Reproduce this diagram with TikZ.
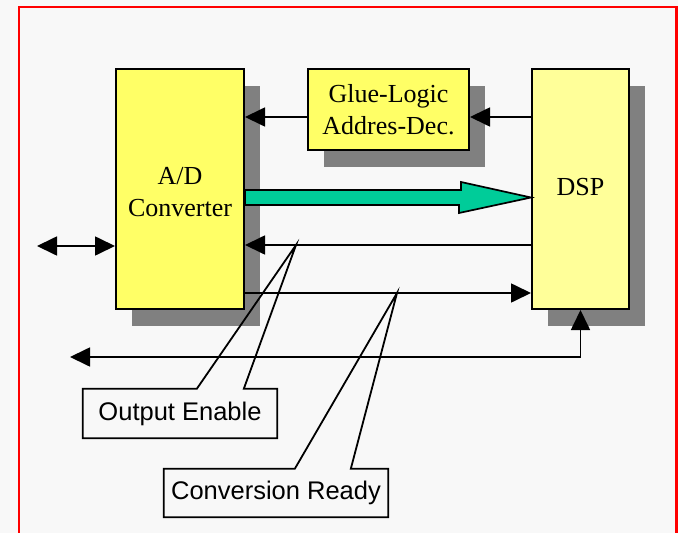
\documentclass[tikz,border=0pt]{standalone}
\usepackage{fontspec}
\setmainfont{Liberation Serif}
\newfontfamily\labelfont{Liberation Sans}
\usetikzlibrary{arrows.meta, positioning, calc, shadows}

\definecolor{bgcol}{HTML}{F8F8F8}
\definecolor{adyellow}{HTML}{FFFF66}
\definecolor{dspyellow}{HTML}{FFFF99}
\definecolor{shade}{HTML}{808080}
\definecolor{busgreen}{HTML}{00CC99}

\begin{document}
\begin{tikzpicture}[
			x = 1pt, y = -1pt,
			> = {Triangle[length=20pt, width=19pt]},
			block/.style = {draw, line width=2pt, inner sep=0pt, align=center,
				font=\fontsize{26}{32}\selectfont,
				general shadow={fill=shade, shadow xshift=16pt, shadow yshift=-17pt}},
			signal/.style = {line width=1.7pt, ->},
			note/.style = {inner sep=0pt, font=\labelfont\fontsize{25.5}{30}\selectfont},
			callout/.style = {line width=1.8pt}
			]
			
			% Background and frame
			\path[fill=bgcol, use as bounding box] (0,0) rectangle (678,533);
			\draw[red, line width=2.5pt] (19,533) -- (19,7) -- (676.5,7) -- (676.5,533);
			
			% Define blocks
			\node[block, fill=adyellow, minimum width=128pt, minimum height=240pt] (ad) at (180,189) {\strut A/D\\Converter};
			\node[block, fill=adyellow, minimum width=161pt, minimum height=81pt] (glue) at (388.5,109.5) {Glue-Logic\\Addres-Dec.};
			\node[block, fill=dspyellow, minimum width=97pt, minimum height=240pt] (dsp) at (580.5,189) {\strut DSP};
			
			% Signal levels
			\coordinate (ya) at (0,117);
			\coordinate (bus) at (0,197.5);
			\coordinate (yb) at (0,245);
			\coordinate (yc) at (0,293);
			\coordinate (lin) at (37,246);
			\coordinate (lout) at (70,357);
			
			% Define signals
			\draw[signal] (dsp.west |- ya) -- (glue.east |- ya);
			\draw[signal] (glue.west |- ya) -- (ad.east |- ya);
			\draw[signal] (dsp.west |- yb) -- (ad.east |- yb);
			\draw[signal] (ad.east |- yc) -- (dsp.west |- yc);
			\draw[signal, <->] (lin) -- (ad.west |- lin);
			\draw[signal, <->] (lout) -| (dsp.south);
			
			% Data bus
			\filldraw[fill=busgreen, line width=1.7pt] (ad.east |- bus) ++(0,-7.5) -- ++(216,0) -- ++(0,-8)
				-- (dsp.west |- bus) -- ++(-72,15.5) -- ++(0,-8) -- ($(ad.east |- bus)+(0,7.5)$) -- cycle;
			
			% Callouts
			\node[note, minimum width=194pt, minimum height=49pt] (oe) at (180,413.5) {Output Enable};
			\coordinate (oetip) at (296,245);
			\draw[callout] (oe.north west) -- ($(oe.north west)+(114,0)$) -- (oetip) -- ($(oe.north west)+(161,0)$)
				-- (oe.north east) -- (oe.south east) -- (oe.south west) -- cycle;
			
			\node[note, minimum width=224pt, minimum height=48pt] (cr) at (276,493) {Conversion Ready};
			\coordinate (crtip) at (397,293);
			\draw[callout] (cr.north west) -- ($(cr.north west)+(131,0)$) -- (crtip) -- ($(cr.north west)+(187,0)$)
				-- (cr.north east) -- (cr.south east) -- (cr.south west) -- cycle;
			
		\end{tikzpicture}
\end{document}
